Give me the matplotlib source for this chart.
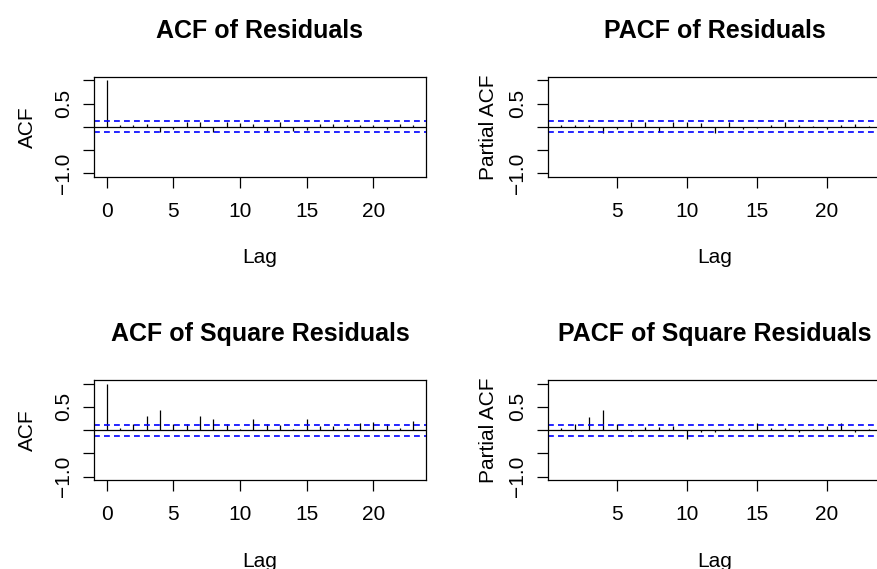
import matplotlib.pyplot as plt
import numpy as np

plt.rcParams['font.family'] = ['Liberation Sans', 'DejaVu Sans']

# autocorrelations of the model residuals
acf_res = [1.00, 0.04, 0.04, 0.06, -0.11, -0.04, 0.10, 0.10, -0.11, 0.10, 0.09, 0.06,
           -0.09, 0.10, -0.09, -0.06, 0.07, 0.06, 0.04, 0.03, 0.03, -0.04, 0.06, 0.03]
pacf_res = [0.05, 0.03, 0.05, -0.13, -0.04, 0.11, 0.11, -0.12, 0.11, 0.11, 0.09,
            -0.14, 0.10, -0.04, -0.03, 0.03, 0.11, 0.04, 0.02, -0.04, 0.05, 0.06, 0.02]
# autocorrelations of the squared residuals
acf_sq = [1.00, 0.05, 0.14, 0.30, 0.43, 0.14, 0.14, 0.30, 0.24, 0.14, 0.02, 0.23,
          0.13, 0.11, 0.03, 0.25, 0.09, 0.08, 0.04, 0.16, 0.17, 0.14, 0.05, 0.19]
pacf_sq = [0.05, 0.13, 0.29, 0.43, 0.13, -0.02, 0.06, 0.07, 0.08, -0.18, -0.04,
           -0.03, 0.04, 0.03, 0.15, 0.05, 0.04, -0.04, 0.02, 0.08, 0.16, -0.05, 0.02]
conf = 0.118  # 1.96 / sqrt(n)

W, H = 877, 569
fig = plt.figure(figsize=(W / 100, H / 100), dpi=100)


def box_axes(l, t, r, b):
    return fig.add_axes([l / W, 1 - b / H, (r - l) / W, (b - t) / H])


def corr_panel(ax, lags, vals, title, ylab, xticks, ylab_x):
    ax.vlines(lags, 0, vals, color='black', lw=0.9)
    ax.axhline(0, color='black', lw=0.9)
    for c in (conf, -conf):
        ax.axhline(c, color='#0000ff', lw=1.2, ls=(0, (3.5, 2.5)))
    n0, n1 = lags[0], lags[-1]
    span = n1 - n0
    ax.set_xlim(n0 - 0.04 * span, n1 + 0.04 * span)
    ax.set_ylim(-1.08, 1.08)
    ax.set_xticks(xticks)
    ax.set_yticks([-1.0, -0.5, 0.0, 0.5, 1.0])
    ax.set_yticklabels(['\u22121.0', '', '', '0.5', ''])
    ax.tick_params(axis='both', length=8, width=0.9, labelsize=15, direction='out')
    ax.tick_params(axis='x', pad=10)
    ax.tick_params(axis='y', pad=7, labelrotation=90)
    plt.setp(ax.get_yticklabels(), va='center')
    for s in ax.spines.values():
        s.set_linewidth(0.9)
    ax.set_title(title, fontsize=18, fontweight='bold', pad=28)
    ax.set_xlabel('Lag', fontsize=15)
    ax.set_ylabel(ylab, fontsize=15)
    ax.xaxis.set_label_coords(0.5, -0.71)
    ax.yaxis.set_label_coords(ylab_x, 0.5)


lags_acf = np.arange(len(acf_res))
lags_pacf = np.arange(1, len(pacf_res) + 1)

ax1 = box_axes(94.3, 76.7, 425.7, 177)
corr_panel(ax1, lags_acf, acf_res, 'ACF of Residuals', 'ACF', [0, 5, 10, 15, 20], -0.174)
ax2 = box_axes(548.3, 76.7, 881, 177)
corr_panel(ax2, lags_pacf, pacf_res, 'PACF of Residuals', 'Partial ACF', [5, 10, 15, 20], -0.150)
ax3 = box_axes(94.3, 380, 425.7, 480.3)
corr_panel(ax3, lags_acf, acf_sq, 'ACF of Square Residuals', 'ACF', [0, 5, 10, 15, 20], -0.174)
ax4 = box_axes(548.3, 380, 881, 480.3)
corr_panel(ax4, lags_pacf, pacf_sq, 'PACF of Square Residuals', 'Partial ACF', [5, 10, 15, 20], -0.150)

fig.savefig('out.png', dpi=100)
